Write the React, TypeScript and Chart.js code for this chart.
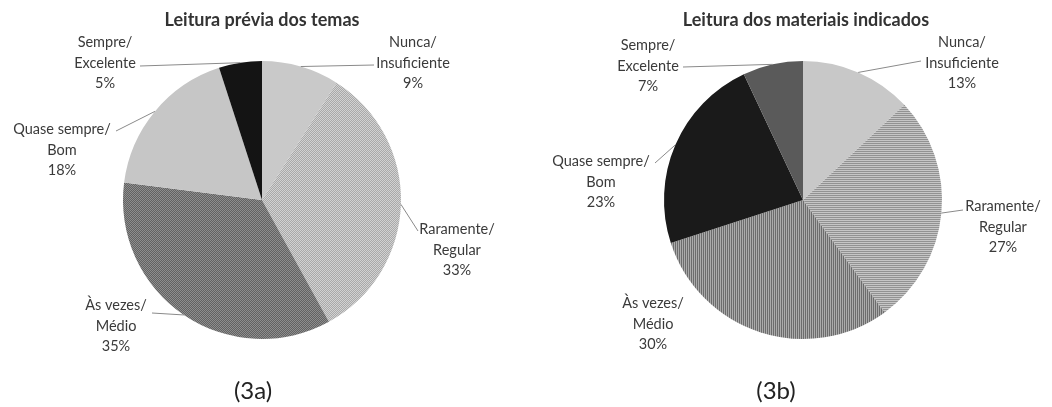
import React, { useEffect, useRef } from "react";
import { Chart, registerables } from "chart.js";

Chart.register(...registerables);

// ---------- data ----------
const categories = [
  ["Nunca/", "Insuficiente"],
  ["Raramente/", "Regular"],
  ["Às vezes/", "Médio"],
  ["Quase sempre/", "Bom"],
  ["Sempre/", "Excelente"],
];
const titleA = "Leitura prévia dos temas";
const titleB = "Leitura dos materiais indicados";
const captionA = "(3a)";
const captionB = "(3b)";
const valuesA = [9, 33, 35, 18, 5];
const valuesB = [13, 27, 30, 23, 7];

// ---------- layout / style ----------
const W = 526;
const H = 407;
const FONT = "Lato, 'Open Sans', sans-serif";

type LabelPos = { dx: number; dy: number; lx?: number; ly?: number };
const labelPosA: LabelPos[] = [
  { dx: 151, dy: -137, lx: 112, ly: -135 },
  { dx: 195, dy: 50, lx: 156, ly: 31 },
  { dx: -146, dy: 126, lx: -110, ly: 113 },
  { dx: -200, dy: -50, lx: -146, ly: -69 },
  { dx: -157, dy: -137, lx: -122, ly: -134 },
];
const labelPosB: LabelPos[] = [
  { dx: 159, dy: -137, lx: 118, ly: -139 },
  { dx: 200, dy: 27, lx: 160, ly: 10 },
  { dx: -150, dy: 124 },
  { dx: -202, dy: -18, lx: -148, ly: -37 },
  { dx: -155, dy: -134, lx: -120, ly: -133 },
];

function makePattern(kind: string): CanvasPattern | string {
  const c = document.createElement("canvas");
  c.width = 2;
  c.height = 2;
  const g = c.getContext("2d")!;
  const px = (x: number, y: number, col: string) => {
    g.fillStyle = col;
    g.fillRect(x, y, 1, 1);
  };
  if (kind === "lightChecker") {
    px(0, 0, "#d2d2d2"); px(1, 1, "#d2d2d2");
    px(1, 0, "#a9a9a9"); px(0, 1, "#a9a9a9");
  } else if (kind === "darkChecker") {
    px(0, 0, "#8e8e8e"); px(1, 1, "#8e8e8e");
    px(1, 0, "#626262"); px(0, 1, "#626262");
  } else if (kind === "hStripes") {
    px(0, 0, "#c6c6c6"); px(1, 0, "#c6c6c6");
    px(0, 1, "#929292"); px(1, 1, "#929292");
  } else if (kind === "vStripes") {
    px(0, 0, "#ababab"); px(0, 1, "#ababab");
    px(1, 0, "#6c6c6c"); px(1, 1, "#6c6c6c");
  }
  const p = g.createPattern(c, "repeat");
  return p || "#999";
}

const labelPlugin = {
  id: "pieLabels",
  afterDatasetsDraw(chart: any, _args: any, opts: any) {
    const ctx: CanvasRenderingContext2D = chart.ctx;
    const meta = chart.getDatasetMeta(0);
    const values: number[] = chart.data.datasets[0].data;
    const positions: LabelPos[] = opts.positions;
    const first = meta.data[0];
    const cx = first.x;
    const cy = first.y;
    ctx.save();
    // title
    ctx.fillStyle = "#333333";
    ctx.font = `bold 18px ${FONT}`;
    ctx.textAlign = "center";
    ctx.textBaseline = "middle";
    ctx.fillText(opts.title, cx + (opts.titleDx || 0), 20);
    // caption
    ctx.fillStyle = "#222222";
    ctx.font = `24px ${FONT}`;
    ctx.fillText(opts.caption, cx + opts.captionDx, 391);
    // labels
    meta.data.forEach((arc: any, i: number) => {
      const pos = positions[i];
      const R = arc.outerRadius;
      const mid = (arc.startAngle + arc.endAngle) / 2;
      const ax = cx + Math.cos(mid) * R;
      const ay = cy + Math.sin(mid) * R;
      if (pos.lx !== undefined && pos.ly !== undefined) {
        ctx.strokeStyle = "#8a8a8a";
        ctx.lineWidth = 1;
        ctx.beginPath();
        ctx.moveTo(ax, ay);
        ctx.lineTo(cx + pos.lx, cy + pos.ly);
        ctx.stroke();
      }
      const lines = [...categories[i], `${values[i]}%`];
      ctx.fillStyle = "#3a3a3a";
      ctx.font = `14.5px ${FONT}`;
      ctx.textAlign = "center";
      ctx.textBaseline = "middle";
      lines.forEach((t, k) => {
        ctx.fillText(t, cx + pos.dx, cy + pos.dy + (k - 1) * 20.5);
      });
    });
    ctx.restore();
  },
};

function PieChart(props: {
  values: number[];
  colors: (string | CanvasPattern)[];
  positions: LabelPos[];
  title: string;
  caption: string;
  captionDx: number;
  titleDx: number;
  padding: { left: number; right: number; top: number; bottom: number };
}) {
  const ref = useRef<HTMLCanvasElement>(null);
  useEffect(() => {
    if (!ref.current) return;
    const chart = new Chart(ref.current, {
      type: "pie",
      data: {
        labels: categories.map((c) => c.join(" ")),
        datasets: [
          {
            data: props.values,
            backgroundColor: props.colors as any,
            borderWidth: 0,
          },
        ],
      },
      options: {
        responsive: false,
        animation: false,
        devicePixelRatio: 1,
        events: [],
        layout: { padding: props.padding },
        plugins: {
          legend: { display: false },
          tooltip: { enabled: false },
          title: { display: false },
          pieLabels: {
            positions: props.positions,
            title: props.title,
            caption: props.caption,
            captionDx: props.captionDx,
            titleDx: props.titleDx,
          },
        } as any,
      },
      plugins: [labelPlugin],
    });
    return () => chart.destroy();
  }, []);
  return <canvas ref={ref} width={W} height={H} style={{ display: "block", width: W, height: H }} />;
}

export default function App() {
  const colorsA = [
    "#c9c9c9",
    makePattern("lightChecker"),
    makePattern("darkChecker"),
    "#c6c6c6",
    "#141414",
  ];
  const colorsB = [
    "#c8c8c8",
    makePattern("hStripes"),
    makePattern("vStripes"),
    "#1a1a1a",
    "#5a5a5a",
  ];
  return (
    <div
      style={{
        position: "fixed",
        left: 0,
        top: 0,
        width: 1052,
        height: 407,
        background: "#ffffff",
        display: "flex",
      }}
    >
      <PieChart
        values={valuesA}
        colors={colorsA}
        positions={labelPosA}
        title={titleA}
        caption={captionA}
        captionDx={-9}
        titleDx={0}
        padding={{ left: 123, right: 125, top: 61, bottom: 68 }}
      />
      <PieChart
        values={valuesB}
        colors={colorsB}
        positions={labelPosB}
        title={titleB}
        caption={captionB}
        captionDx={-27}
        titleDx={3}
        padding={{ left: 138, right: 110, top: 61, bottom: 68 }}
      />
    </div>
  );
}
